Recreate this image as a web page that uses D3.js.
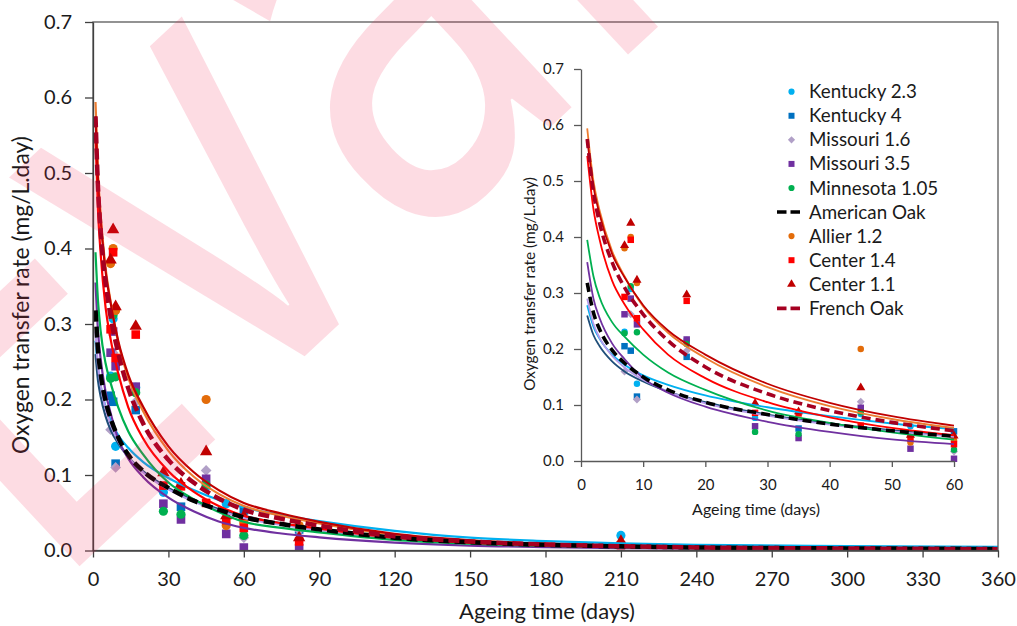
<!DOCTYPE html>
<html><head><meta charset="utf-8">
<script src="https://cdn.jsdelivr.net/npm/d3@7"></script>
<style>html,body{margin:0;padding:0;background:#fff;} svg{display:block;}</style>
</head><body><svg id="c" width="1017" height="626"></svg>
<script>
// ---------- data ----------
const sampleDays = [7, 8, 9, 17, 28, 35, 45, 53, 60, 82, 210];
const kentucky23 = [0.231, 0.307, 0.138, 0.216, 0.077, null, 0.084, 0.062, null, null, 0.020];
const kentucky4  = [0.205, 0.197, 0.115, 0.186, null, 0.058, null, null, 0.053, 0.028, null];
const missouri16 = [0.160, 0.262, 0.110, 0.197, null, null, 0.106, null, 0.017, 0.027, null];
const missouri35 = [0.262, 0.290, 0.244, 0.217, 0.062, 0.041, 0.095, 0.022, 0.004, 0.003, null];
const minnesota  = [0.228, 0.312, 0.230, 0.209, 0.052, 0.048, 0.087, null, 0.020, null, null];
const allier     = [0.380, 0.400, 0.318, null, null, null, 0.200, 0.033, 0.037, 0.033, null];
const center14   = [0.293, 0.395, 0.255, 0.286, 0.086, 0.085, 0.063, 0.040, 0.030, 0.012, 0.007];
const center11   = [0.385, 0.425, 0.323, 0.297, 0.103, 0.088, 0.131, 0.046, 0.045, 0.017, 0.012];

// trend lines, values read at these days
const fitDays       = [1, 2, 3, 5, 7, 10, 14, 20, 30, 40, 50, 60, 75, 90, 120, 150, 180, 210, 240, 300, 360];
const kentucky23Fit = [.278,.240,.218,.190,.172,.153,.136,.117,.096,.080,.067,.057,.047,.039,.026,.017,.0125,.0095,.0075,.0058,.0048];
const kentucky4Fit  = [.260,.225,.205,.178,.160,.142,.124,.105,.083,.067,.055,.046,.036,.028,.017,.011,.0075,.0055,.004,.0028,.002];
const missouri16Fit = [.290,.245,.220,.188,.167,.145,.124,.103,.081,.065,.053,.043,.034,.027,.016,.010,.0068,.005,.0037,.0026,.0018];
const missouri35Fit = [.355,.290,.255,.210,.182,.148,.122,.097,.070,.052,.0385,.030,.0225,.0175,.0105,.0065,.0045,.0032,.0024,.0015,.001];
const minnesotaFit  = [.395,.330,.292,.248,.222,.190,.158,.127,.090,.068,.051,.038,.030,.024,.014,.009,.006,.0043,.0032,.0022,.0015];
const americanFit   = [.318,.265,.235,.198,.175,.150,.127,.105,.083,.066,.054,.044,.035,.028,.017,.011,.0075,.0055,.004,.0028,.002];
const allierFit     = [.594,.500,.447,.375,.330,.276,.229,.184,.132,.098,.075,.059,.046,.036,.021,.013,.0085,.006,.0042,.0027,.0018];
const center14Fit   = [.545,.450,.395,.322,.280,.235,.190,.148,.105,.078,.059,.046,.036,.029,.017,.0105,.007,.005,.0036,.0025,.0017];
const center11Fit   = [.575,.490,.440,.370,.328,.278,.233,.190,.138,.104,.080,.063,.049,.038,.022,.0135,.009,.0063,.0045,.0028,.0018];
const frenchFit     = [.575,.480,.425,.355,.310,.262,.215,.168,.120,.090,.069,.054,.042,.033,.019,.012,.008,.0057,.0041,.0027,.0018];

const legendLabels = ["Kentucky 2.3","Kentucky 4","Missouri 1.6","Missouri 3.5","Minnesota 1.05","American Oak","Allier 1.2","Center 1.4","Center 1.1","French Oak"];
const mainXTicks = [0,30,60,90,120,150,180,210,240,270,300,330,360];
const insetXTicks = [0,10,20,30,40,50,60];
const yTicks = [0,0.1,0.2,0.3,0.4,0.5,0.6,0.7];
const yTitle = "Oxygen transfer rate (mg/L.day)";
const xTitle = "Ageing time (days)";
const watermarkText = "Evaluation";

// ---------- series styling ----------
const pointSeries = [
  {name:"Kentucky 2.3", v:kentucky23, color:"#00B0F0", shape:"circle"},
  {name:"Kentucky 4",   v:kentucky4,  color:"#0070C0", shape:"square"},
  {name:"Missouri 1.6", v:missouri16, color:"#B1A0C7", shape:"diamond"},
  {name:"Missouri 3.5", v:missouri35, color:"#7030A0", shape:"square"},
  {name:"Minnesota 1.05", v:minnesota, color:"#00B050", shape:"circle"},
  {name:"Allier 1.2",   v:allier,     color:"#E36C0A", shape:"circle"},
  {name:"Center 1.4",   v:center14,   color:"#FF0000", shape:"square"},
  {name:"Center 1.1",   v:center11,   color:"#C00000", shape:"triangle"}
];
const solidFits = [
  {v:kentucky23Fit, color:"#00B0F0"},
  {v:kentucky4Fit,  color:"#1F4E79"},
  {v:missouri16Fit, color:"#B49AEA"},
  {v:missouri35Fit, color:"#7030A0"},
  {v:minnesotaFit,  color:"#00B050"},
  {v:allierFit,     color:"#ED7D31"},
  {v:center14Fit,   color:"#FF0000"},
  {v:center11Fit,   color:"#C00000"}
];
const dashedFits = [
  {v:americanFit, color:"#000000"},
  {v:frenchFit,   color:"#A50021"}
];

const FONT = "Lato, 'Open Sans', sans-serif";
const TXT = "#1a1a1a";
const svg = d3.select("#c");

function markerPath(shape, area){
  if(shape==="circle") return d3.symbol().type(d3.symbolCircle).size(area)();
  if(shape==="square" || shape==="diamond") return d3.symbol().type(d3.symbolSquare).size(area)();
  return d3.symbol().type(d3.symbolTriangle).size(area)();
}
function markerTransform(shape, px, py){
  return `translate(${px},${py})` + (shape==="diamond" ? " rotate(45)" : "");
}

function drawPanel(g, x, y, maxDay, o){
  pointSeries.forEach(s=>{
    const pts = sampleDays.map((d,i)=>[d, s.v[i]]).filter(p=>p[1]!==null && p[0]<=maxDay);
    const area = s.shape==="circle"?o.circ : s.shape==="square"?o.sq : s.shape==="diamond"?o.dia : o.tri;
    g.append("g").selectAll("path").data(pts).join("path")
      .attr("d", markerPath(s.shape, area))
      .attr("transform", p=>markerTransform(s.shape, x(p[0]), y(p[1])))
      .attr("fill", s.color);
  });
  const line = d3.line().x(p=>x(p[0])).y(p=>y(p[1])).curve(d3.curveMonotoneX);
  const pts = v => fitDays.map((d,i)=>[d, v[i]]).filter(p=>p[0]<=maxDay);
  solidFits.forEach(f=>{
    g.append("path").attr("d", line(pts(f.v))).attr("fill","none")
      .attr("stroke", f.color).attr("stroke-width", o.lw);
  });
  dashedFits.forEach(f=>{
    g.append("path").attr("d", line(pts(f.v))).attr("fill","none")
      .attr("stroke", f.color).attr("stroke-width", o.dw).attr("stroke-dasharray", o.dash);
  });
}

function styleAxis(sel, color, fs){
  sel.select(".domain").attr("stroke", color).attr("stroke-width", 1.3);
  sel.selectAll(".tick line").attr("stroke", color).attr("stroke-width", 1.3);
  sel.selectAll(".tick text").attr("fill", TXT).attr("font-size", fs).attr("font-family", FONT);
}
function fitWidth(sel, target){
  const w = sel.node().getComputedTextLength();
  const fs = parseFloat(sel.attr("font-size"));
  sel.attr("font-size", fs*target/w);
  return fs*target/w;
}

// ---------- main chart ----------
const X0=93, X1=998, Y0=550.5, Y1=22;
const x = d3.scaleLinear().domain([0,360]).range([X0,X1]);
const y = d3.scaleLinear().domain([0,0.7]).range([Y0,Y1]);

svg.append("defs").append("clipPath").attr("id","mainclip")
  .append("rect").attr("x",X0).attr("y",Y1).attr("width",X1-X0).attr("height",Y0-Y1);

const mainG = svg.append("g").attr("clip-path","url(#mainclip)");
drawPanel(mainG, x, y, 360, {circ:66, sq:74, dia:58, tri:66, lw:2.2, dw:4.5, dash:"11,5"});

svg.append("rect").attr("x",X0).attr("y",Y1).attr("width",X1-X0).attr("height",Y0-Y1)
  .attr("fill","none").attr("stroke","#595959").attr("stroke-width",1.3);

const gx = svg.append("g").attr("transform",`translate(0,${Y0})`)
  .call(d3.axisBottom(x).tickValues(mainXTicks).tickSize(7).tickSizeOuter(0).tickPadding(14).tickFormat(d3.format("d")));
styleAxis(gx, "#404040", 20);
const gy = svg.append("g").attr("transform",`translate(${X0},0)`)
  .call(d3.axisLeft(y).tickValues(yTicks).tickSize(8).tickSizeOuter(0).tickPadding(13).tickFormat(d3.format(".1f")));
styleAxis(gy, "#404040", 20);

const mxt = svg.append("text").text(xTitle).attr("x",547).attr("y",619)
  .attr("text-anchor","middle").attr("font-family",FONT).attr("font-size",20).attr("fill",TXT);
fitWidth(mxt, 176);
const myt = svg.append("text").text(yTitle).attr("transform","translate(29,295) rotate(-90)")
  .attr("text-anchor","middle").attr("font-family",FONT).attr("font-size",20).attr("fill",TXT);
fitWidth(myt, 318);

// ---------- inset chart ----------
const IX0=581, IX1=954, IY0=461, IY1=69;
const xi = d3.scaleLinear().domain([0,60]).range([IX0,IX1]);
const yi = d3.scaleLinear().domain([0,0.7]).range([IY0,IY1]);
const insetG = svg.append("g");
drawPanel(insetG, xi, yi, 60, {circ:33, sq:42, dia:32, tri:36, lw:1.8, dw:3.6, dash:"9,5"});

const ix = svg.append("g").attr("transform",`translate(0,${IY0})`)
  .call(d3.axisBottom(xi).tickValues(insetXTicks).tickSize(6).tickSizeOuter(0).tickPadding(12).tickFormat(d3.format("d")));
styleAxis(ix, "#595959", 15);
const iy = svg.append("g").attr("transform",`translate(${IX0},0)`)
  .call(d3.axisLeft(yi).tickValues(yTicks).tickSize(7).tickSizeOuter(0).tickPadding(10).tickFormat(d3.format(".1f")));
styleAxis(iy, "#595959", 15);

const ixt = svg.append("text").text(xTitle).attr("x",756).attr("y",515)
  .attr("text-anchor","middle").attr("font-family",FONT).attr("font-size",15).attr("fill",TXT);
fitWidth(ixt, 128);
const iyt = svg.append("text").text(yTitle).attr("transform","translate(535,284) rotate(-90)")
  .attr("text-anchor","middle").attr("font-family",FONT).attr("font-size",15).attr("fill",TXT);
fitWidth(iyt, 214);

// ---------- legend ----------
const legendItems = [
  {kind:"pt", s:pointSeries[0]}, {kind:"pt", s:pointSeries[1]}, {kind:"pt", s:pointSeries[2]},
  {kind:"pt", s:pointSeries[3]}, {kind:"pt", s:pointSeries[4]}, {kind:"dash", color:"#000000"},
  {kind:"pt", s:pointSeries[5]}, {kind:"pt", s:pointSeries[6]}, {kind:"pt", s:pointSeries[7]},
  {kind:"dash", color:"#A50021"}
];
const LG_Y0 = 91.7, LG_DY = 24.07;
let legendFs = 18;
legendItems.forEach((it,i)=>{
  const cy = LG_Y0 + i*LG_DY;
  if(it.kind==="pt"){
    const a = it.s.shape==="circle"?30 : it.s.shape==="square"?36 : it.s.shape==="diamond"?26 : 34;
    svg.append("path").attr("d", markerPath(it.s.shape, a))
      .attr("transform", markerTransform(it.s.shape, 791.5, cy)).attr("fill", it.s.color);
  } else {
    svg.append("line").attr("x1",777).attr("x2",803.5).attr("y1",cy).attr("y2",cy)
      .attr("stroke", it.color).attr("stroke-width",3.6).attr("stroke-dasharray","9.5,4");
  }
  const t = svg.append("text").text(legendLabels[i]).attr("x",809).attr("y",cy).attr("dy","0.35em")
    .attr("font-family",FONT).attr("font-size",legendFs).attr("fill",TXT);
  if(i===0) legendFs = fitWidth(t, 108);
  else t.attr("font-size", legendFs);
});

// ---------- watermark overlay ----------
const wm = svg.append("g").attr("pointer-events","none");
const wt = wm.append("text").text(watermarkText)
  .attr("font-family","'Noto Sans', sans-serif").attr("font-size",620)
  .attr("fill","rgb(240,40,80)").attr("fill-opacity",0.16);
const ext = wt.node().getExtentOfChar(1);
wt.attr("x", -(ext.x + ext.width/2));
wm.attr("transform","translate(322,340) rotate(-43) scale(0.75,1)");
</script></body></html>
